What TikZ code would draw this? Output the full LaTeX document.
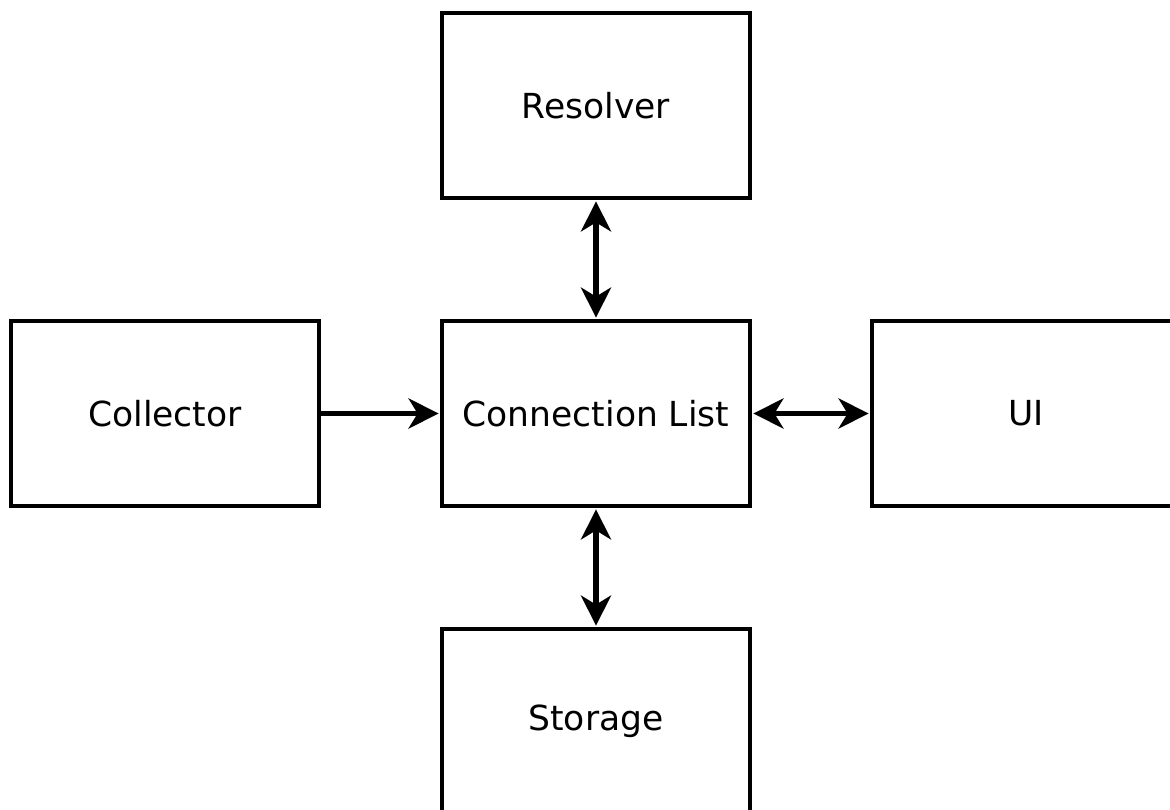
\documentclass[tikz,border=0pt]{standalone}
\usepackage{fontspec}
\setmainfont{DejaVu Sans}
\usetikzlibrary{arrows.meta}
\tikzset{
  bighead/.tip={Stealth[length=30pt 0 0,width=30pt 0 0,inset=9pt 0 0]}
}
\begin{document}
\begin{tikzpicture}[x=1pt,y=1pt,
  blockbox/.style={draw=black, line width=3.4pt, minimum width=308pt, minimum height=185pt, inner sep=0pt, font=\fontsize{34.5}{40}\selectfont, anchor=center},
  conn/.style={line width=5.5pt, -bighead},
  bconn/.style={line width=5.5pt, bighead-bighead}
]
\useasboundingbox (0,0) rectangle (1170,-810);
\clip (0,0) rectangle (1170,-810);
\fill[white] (0,0) rectangle (1170,-810);
\node[blockbox] (res) at (596,-105.5) {Resolver};
\node[blockbox] (col) at (165,-413.5) {Collector};
\node[blockbox] (cl) at (596,-413.5) {Connection List};
\node[blockbox] (ui) at (1026,-413.5) {UI};
\node[blockbox] (sto) at (596,-721.5) {Storage};
\draw[conn] (col.east) -- ([xshift=-1.7pt]cl.west);
\draw[bconn] ([xshift=1.7pt]cl.east) -- ([xshift=-1.7pt]ui.west);
\draw[bconn] ([yshift=1.7pt]cl.north) -- ([yshift=-1.7pt]res.south);
\draw[bconn] ([yshift=-1.7pt]cl.south) -- ([yshift=1.7pt]sto.north);
\end{tikzpicture}
\end{document}
